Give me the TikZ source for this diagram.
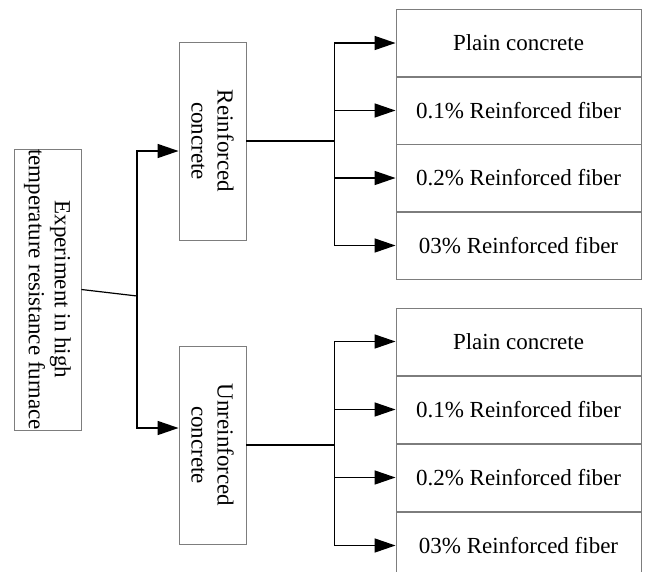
\documentclass[tikz,border=0pt]{standalone}
\usepackage{fontspec}
\setmainfont{Liberation Serif}
\usetikzlibrary{arrows.meta}

\tikzset{
 box/.style={draw={rgb,255:red,125;green,125;blue,125}, line width=0.9pt, inner sep=0pt, font=\fontsize{23}{26}\selectfont, align=center},
 sidebox/.style={box, rotate=-90, minimum height=67pt},
 leafbox/.style={box, minimum width=245pt, minimum height=67pt},
 link/.style={black, line width=1.5pt},
}

\begin{document}
\begin{tikzpicture}[x=1pt, y=-1pt, >={Triangle[length=21pt,width=14pt]}]
\useasboundingbox (0,0) rectangle (646,571);
\node[sidebox, minimum width=277pt] (exp) at (47.5,289.5) {Experiment in high\\temperature resistance furnace};
\node[sidebox, minimum width=198pt] (rc) at (212.5,141) {Reinforced\\concrete};
\node[sidebox, minimum width=198pt] (uc) at (212.5,445) {Unreinforced\\concrete};
\foreach \lbl [count=\i] in {Plain concrete, 0.1\% Reinforced fiber, 0.2\% Reinforced fiber, 03\% Reinforced fiber} {
 \node[leafbox] (rc\i) at (518.5,{43+67.5*(\i-1)}) {\lbl};
 \node[leafbox] (uc\i) at (518.5,{341.5+68*(\i-1)}) {\lbl};
}
% left split
\coordinate (split) at (137,296);
\coordinate (up) at (137,151);
\coordinate (down) at (137,428);
\draw[link, line width=1.2pt] (exp.north) -- (split);
\draw[link, ->] (split) -- (up) -- (up -| rc.south);
\draw[link, ->] (split) -- (down) -- (down -| uc.south);
% right splits
\draw[link] (rc.north) -- ++(88,0) coordinate (rj);
\draw[link] (uc.north) -- ++(88,0) coordinate (uj);
\foreach \i in {1,...,4} {
 \draw[link, ->] (rj) |- (rc\i.west);
 \draw[link, ->] (uj) |- (uc\i.west);
}
\end{tikzpicture}
\end{document}
